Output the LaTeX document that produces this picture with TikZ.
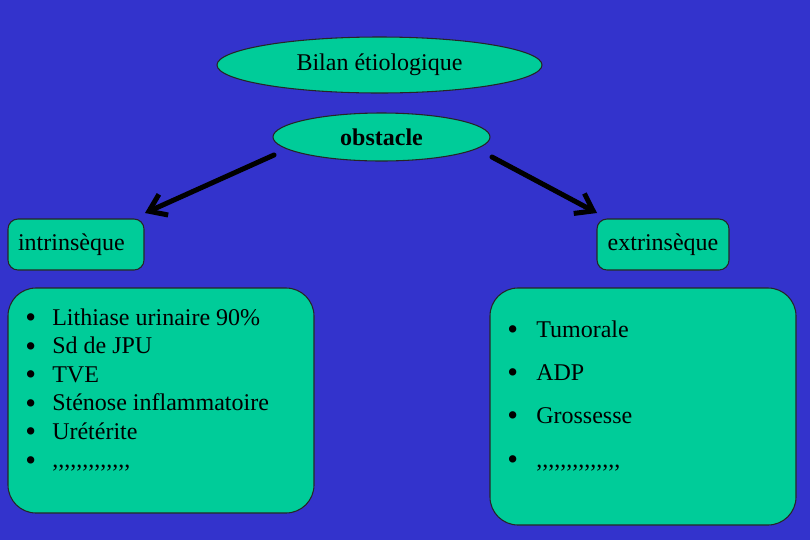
\documentclass[tikz,border=0pt]{standalone}
\usepackage{fontspec}
\setmainfont{Liberation Serif}[Ligatures=TeXOff]
\usetikzlibrary{shapes.geometric,arrows.meta}
\definecolor{fond}{RGB}{51,51,204}
\definecolor{vert}{RGB}{0,204,153}
\newcommand{\puce}[2][20.25pt]{\makebox[#1][l]{\raisebox{-2pt}{\fontsize{23}{23}\selectfont\textbullet}}#2}
\tikzset{
  bulle/.style={ellipse,draw=black!85,line width=0.8pt,fill=vert,inner sep=0pt,font=\fontsize{18}{21}\selectfont},
  cadre/.style={draw=black!85,line width=0.8pt,fill=vert,rounded corners=#1,inner sep=0pt,font=\fontsize{18}{21}\selectfont},
  cadre/.default=7.5pt,
  item/.style={anchor=base west,inner sep=0pt,font=\fontsize{18}{21}\selectfont},
  fleche/.style={line width=3.75pt,line cap=round,-{Straight Barb[length=12pt,width=17pt]}}
}
\begin{document}
\begin{tikzpicture}[x=0.75pt,y=-0.75pt]
  \fill[fond] (0,0) rectangle (810,540);
  \node[bulle,minimum width=243.75pt,minimum height=42pt] (bilan) at (379.5,65) {Bilan étiologique};
  \node[bulle,minimum width=162.75pt,minimum height=36pt] (obs) at (381.5,137) {\bfseries obstacle};
  \node[cadre,minimum width=102pt,minimum height=38.25pt,text width=87pt,align=left] (intr) at (76,244.5) {intrinsèque};
  \node[cadre,minimum width=99pt,minimum height=38.25pt] (extr) at (663,244.5) {extrinsèque};
  \node[cadre=21pt,minimum width=229.5pt,minimum height=168.75pt] (lbox) at (161,400.5) {};
  \node[cadre=21pt,minimum width=229.5pt,minimum height=177.75pt] (rbox) at (643,406.5) {};
  % fleches
  \coordinate (g1) at (274,155);
  \coordinate (g2) at (145,213);
  \coordinate (d1) at (492,157);
  \coordinate (d2) at (597,213);
  \draw[fleche] (g1) -- (g2);
  \draw[fleche] (d1) -- (d2);
  % liste gauche
  \node[item] (l1) at (25,325) {\puce{Lithiase urinaire 90\%}};
  \node[item] (l2) at (25,353.5) {\puce{Sd de JPU}};
  \node[item] (l3) at (25,382) {\puce{TVE}};
  \node[item] (l4) at (25,410.5) {\puce{Sténose inflammatoire}};
  \node[item] (l5) at (25,439) {\puce{Urétérite}};
  \node[item] (l6) at (25,467.5) {\puce{,,,,,,,,,,,,,}};
  % liste droite
  \node[item] (r1) at (507,337) {\puce[21.75pt]{Tumorale}};
  \node[item] (r2) at (507,380) {\puce[21.75pt]{ADP}};
  \node[item] (r3) at (507,423) {\puce[21.75pt]{Grossesse}};
  \node[item] (r4) at (507,467) {\puce[21.75pt]{,,,,,,,,,,,,,,}};
\end{tikzpicture}
\end{document}
